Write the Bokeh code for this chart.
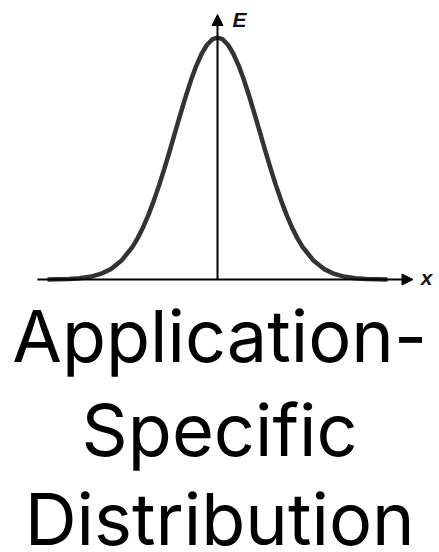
from bokeh.plotting import figure
from bokeh.models import Range1d, Arrow, NormalHead, ColumnDataSource
from bokeh.core.properties import value
from bokeh.embed import file_html
from bokeh.resources import INLINE

# Energy profile E along x, sampled in units of the spread (symmetric bell)
x_pos = [0.0, 0.125, 0.25, 0.375, 0.5, 0.625, 0.75, 0.875, 1.0, 1.125, 1.25,
         1.375, 1.5, 1.625, 1.75, 1.875, 2.0, 2.25, 2.5, 2.75, 3.0,
         3.25, 3.5, 3.75, 4.0]
e_pos = [1.000, 0.992, 0.969, 0.932, 0.883, 0.823, 0.755, 0.682, 0.607, 0.531, 0.458,
         0.389, 0.325, 0.267, 0.216, 0.172, 0.135, 0.080, 0.044, 0.023, 0.011,
         0.005, 0.002, 0.001, 0.000]

x_vals = [-v for v in reversed(x_pos[1:])] + x_pos
e_vals = list(reversed(e_pos[1:])) + e_pos

axis_labels = ["E", "x"]
title_lines = ["Application-", "Specific", "Distribution"]

# scale: 42.5 px per x unit, 242 px per unit of E
x_lo, x_hi = -217 / 42.5, 222 / 42.5
y_lo, y_hi = -273 / 242, 279 / 242

p = figure(width=439, height=552, output_backend="svg", toolbar_location=None,
           x_range=Range1d(x_lo, x_hi), y_range=Range1d(y_lo, y_hi),
           x_axis_type=None, y_axis_type=None, min_border=0)
p.grid.visible = False
p.outline_line_color = None
p.background_fill_color = "white"
p.border_fill_color = "white"

# horizontal and vertical axis arrows
p.add_layout(Arrow(end=NormalHead(size=11, fill_color="black", line_color="black", line_width=1),
                   x_start=-4.24, y_start=0, x_end=4.6, y_end=0,
                   line_color="black", line_width=2))
p.add_layout(Arrow(end=NormalHead(size=11, fill_color="black", line_color="black", line_width=1),
                   x_start=0, y_start=0, x_end=0, y_end=1.095,
                   line_color="black", line_width=2))

src = ColumnDataSource(dict(x=x_vals, e=e_vals))
p.line("x", "e", source=src, line_color="#333333", line_width=4.5,
       line_cap="butt", line_join="round")

# axis letters
p.text(x=[0.35, 4.78], y=[1.075, 0.01], text=axis_labels,
       text_font=value("Liberation Sans"), text_font_style="bold italic",
       text_font_size="21px", text_color="#111111",
       text_align="left", text_baseline="middle")

# caption below the chart
p.text(x=[0.05, 0.05, 0.05], y=[-0.232, -0.621, -0.989], text=title_lines,
       text_font=value("Inter"), text_font_size="72px", text_color="black",
       text_align="center", text_baseline="alphabetic")

open("out.html", "w").write(file_html(p, INLINE))
